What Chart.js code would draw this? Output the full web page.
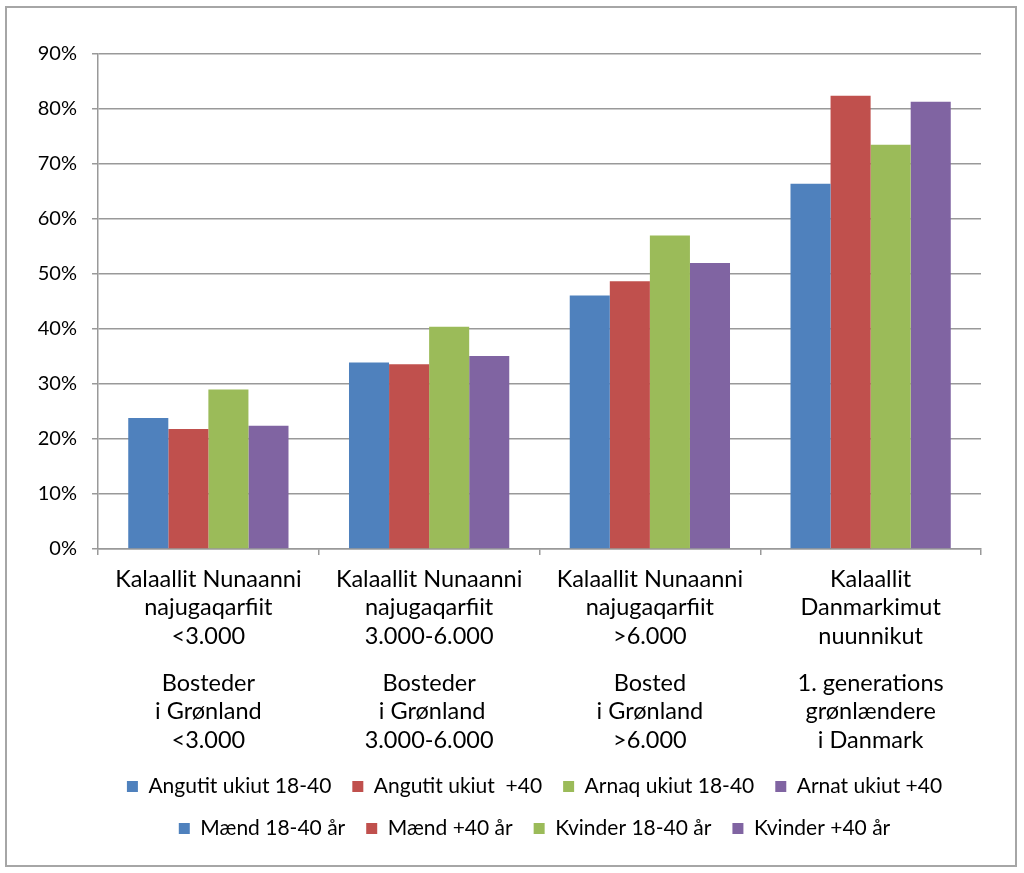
<!DOCTYPE html>
<html>
<head>
<meta charset="utf-8">
<script src="https://cdn.jsdelivr.net/npm/chart.js@4"></script>
<style>
  html, body { margin: 0; padding: 0; background: #fff; overflow: hidden; }
  #wrap { position: absolute; left: 0; top: 0; width: 1024px; height: 873px; }
  #frame { position: absolute; left: 5px; top: 6px; width: 1012px; height: 861px;
           box-sizing: border-box; border: 2px solid #a6a6a6; pointer-events: none; }
</style>
</head>
<body>
<div id="wrap"><canvas id="chart"></canvas></div>
<div id="frame"></div>
<script>
// Kategorier (grønlandsk / dansk)
const categoriesKl = [
  ["Kalaallit Nunaanni", "najugaqarfiit", "<3.000"],
  ["Kalaallit Nunaanni", "najugaqarfiit", "3.000-6.000"],
  ["Kalaallit Nunaanni", "najugaqarfiit", ">6.000"],
  ["Kalaallit", "Danmarkimut", "nuunnikut"]
];
const categoriesDa = [
  ["Bosteder", "i Grønland", "<3.000"],
  ["Bosteder", " i Grønland", "3.000-6.000"],
  ["Bosted", "i Grønland", ">6.000"],
  ["1. generations", "grønlændere", "i Danmark"]
];

// Serier
const seriesKl = ["Angutit ukiut 18-40", "Angutit ukiut  +40", "Arnaq ukiut 18-40", "Arnat ukiut +40"];
const seriesDa = ["Mænd 18-40 år", "Mænd +40 år", "Kvinder 18-40 år", "Kvinder +40 år"];

const men1840   = [23.8, 33.9, 46.1, 66.4];
const men40     = [21.8, 33.6, 48.7, 82.4];
const women1840 = [29.0, 40.4, 57.0, 73.5];
const women40   = [22.4, 35.1, 52.0, 81.3];

const yTicks = [0, 10, 20, 30, 40, 50, 60, 70, 80, 90];

const colors = ["#4F81BD", "#C0504D", "#9BBB59", "#8064A2"];
const gridColor = "#999999";
const fontFamily = "Lato, sans-serif";

const values = [men1840, men40, women1840, women40];

// Legenden centreres under plotområdet (som i Excel)
const legendShift = {
  id: "legendShift",
  afterLayout(chart) {
    if (chart.legend) {
      chart.legend.left += 44;
      chart.legend.right += 44;
    }
  }
};

new Chart(document.getElementById("chart"), {
  type: "bar",
  plugins: [legendShift],
  data: {
    labels: categoriesKl,
    datasets: values.map((d, i) => ({
      label: seriesKl[i],
      data: d,
      backgroundColor: colors[i],
      borderWidth: 0,
      categoryPercentage: 0.726,
      barPercentage: 1
    }))
  },
  options: {
    responsive: true,
    maintainAspectRatio: false,
    animation: false,
    layout: { padding: { top: 54, right: 43, left: 0, bottom: 24 } },
    plugins: {
      tooltip: { enabled: false },
      legend: {
        position: "bottom",
        labels: {
          color: "#000",
          font: { family: fontFamily, size: 21 },
          boxWidth: 11,
          boxHeight: 11,
          padding: 21,
          generateLabels: () => {
            const items = [];
            seriesKl.forEach((t, i) => items.push({ text: t, fillStyle: colors[i], strokeStyle: colors[i], lineWidth: 0, datasetIndex: i }));
            seriesDa.forEach((t, i) => items.push({ text: t, fillStyle: colors[i], strokeStyle: colors[i], lineWidth: 0, datasetIndex: i }));
            return items;
          }
        }
      }
    },
    scales: {
      y: {
        min: 0,
        max: 90,
        afterBuildTicks: s => { s.ticks = yTicks.map(v => ({ value: v })); },
        afterFit: s => { s.width = 98; },
        ticks: {
          color: "#000",
          font: { family: fontFamily, size: 20 },
          padding: 15,
          callback: v => v + "%"
        },
        grid: { color: gridColor, lineWidth: 1.5, tickLength: 6 },
        border: { color: gridColor, width: 1.5 }
      },
      x: {
        offset: true,
        afterFit: s => { s.height = 113; },
        ticks: {
          color: "#000",
          font: { family: fontFamily, size: 23.5, lineHeight: 1.21 },
          padding: 10,
          maxRotation: 0,
          autoSkip: false
        },
        grid: { offset: true, drawOnChartArea: false, color: gridColor, lineWidth: 1.5, tickLength: 6 },
        border: { color: gridColor, width: 1.5 }
      },
      x2: {
        type: "category",
        labels: categoriesDa,
        position: "bottom",
        offset: true,
        afterFit: s => { s.height = 93; },
        ticks: {
          color: "#000",
          font: { family: fontFamily, size: 23.5, lineHeight: 1.21 },
          padding: 7,
          maxRotation: 0,
          autoSkip: false
        },
        grid: { display: false, drawTicks: false },
        border: { display: false }
      }
    }
  }
});
</script>
</body>
</html>
